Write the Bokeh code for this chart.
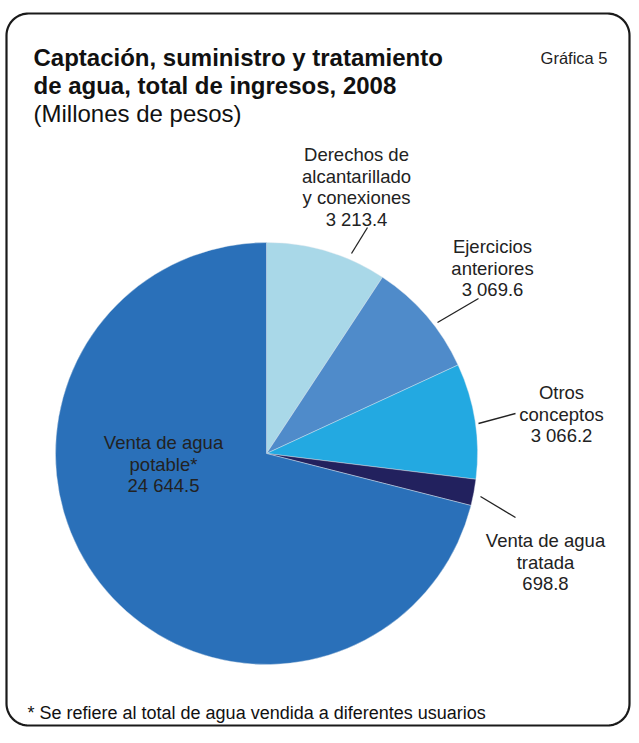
import numpy as np
from bokeh.plotting import figure
from bokeh.models import Range1d
from bokeh.core.properties import value
from bokeh.embed import file_html
from bokeh.resources import INLINE

# ---- data ----
categories = ["Derechos de alcantarillado y conexiones", "Ejercicios anteriores",
              "Otros conceptos", "Venta de agua tratada", "Venta de agua potable*"]
values = [3213.4, 3069.6, 3066.2, 698.8, 24644.5]
label_lines = [["Derechos de", "alcantarillado", "y conexiones"],
               ["Ejercicios", "anteriores"],
               ["Otros", "conceptos"],
               ["Venta de agua", "tratada"],
               ["Venta de agua", "potable*"]]
colors = ["#A9D8E8", "#4F8BCA", "#23A9E1", "#22215E", "#2A70B9"]

title_lines = ["Captación, suministro y tratamiento", "de agua, total de ingresos, 2008"]
subtitle = "(Millones de pesos)"
chart_no = "Gráfica 5"
footnote = "* Se refiere al total de agua vendida a diferentes usuarios"

# ---- layout (pixel coordinates, origin top-left of figure) ----
W, H = 631, 727
FONT = "Liberation Sans"
TXT = "#222222"


def Y(py):
    return H - py


cx, cy, R = 266, 453, 211
label_pos = [(356, 154), (492, 246), (561, 392), (545, 540), (163, 442)]  # centre x, first baseline
leaders = [((367, 227), (351, 253)), ((478, 298), (437, 322)),
           ((515, 413), (478, 423)), ((515, 517), (480, 496))]
LINE_H = 21.5

p = figure(width=W, height=H, output_backend="svg", toolbar_location=None,
           x_range=Range1d(0, W), y_range=Range1d(0, H),
           min_border=0, min_border_left=0, min_border_right=0,
           min_border_top=0, min_border_bottom=0)
p.axis.visible = False
p.xgrid.visible = False
p.ygrid.visible = False
p.outline_line_color = None
p.background_fill_color = "white"
p.border_fill_color = "white"

# rounded border
left, right, top, bottom, rad = 6, 629, 13, 725, 22
pts = []
for (ccx, ccy, a0, a1) in [(left + rad, top + rad, 180, 270), (right - rad, top + rad, 270, 360),
                          (right - rad, bottom - rad, 0, 90), (left + rad, bottom - rad, 90, 180)]:
    a = np.radians(np.linspace(a0, a1, 20))
    pts += [(ccx + rad * np.cos(t), ccy + rad * np.sin(t)) for t in a]
pts.append(pts[0])
p.line([q[0] for q in pts], [Y(q[1]) for q in pts], line_color="#1a1a1a", line_width=2.2)

# pie
vals = np.array(values)
frac = vals / vals.sum()
cum = np.concatenate([[0], np.cumsum(frac)])
start = np.pi / 2 - cum[:-1] * 2 * np.pi
end = np.pi / 2 - cum[1:] * 2 * np.pi
p.wedge(x=cx, y=Y(cy), radius=R, start_angle=list(start), end_angle=list(end),
        direction="clock", fill_color=colors, line_color="#dfe8ef", line_width=0.6, line_alpha=0.7)

# leader lines
for (a, b) in leaders:
    p.line([a[0], b[0]], [Y(a[1]), Y(b[1])], line_color="#222222", line_width=1.3)


def fmt(v):
    ip, dp = f"{v:.1f}".split(".")
    s = ""
    while len(ip) > 3:
        s = " " + ip[-3:] + s
        ip = ip[:-3]
    return ip + s + "." + dp


# labels
for lines, v, (lx, ly) in zip(label_lines, values, label_pos):
    allines = lines + [fmt(v)]
    for i, t in enumerate(allines):
        p.text(x=[lx], y=[Y(ly + i * LINE_H)], text=[t], text_font=value(FONT),
               text_font_size="18.5px", text_color=TXT, text_align="center",
               text_baseline="alphabetic")

# titles
for i, t in enumerate(title_lines):
    p.text(x=[33], y=[Y(57 + i * 28)], text=[t], text_font=value(FONT), text_font_size="24px",
           text_font_style="bold", text_color="#111111", text_align="left", text_baseline="alphabetic")
p.text(x=[33], y=[Y(113)], text=[subtitle], text_font=value(FONT), text_font_size="24px",
       text_color="#111111", text_align="left", text_baseline="alphabetic")
p.text(x=[607], y=[Y(57)], text=[chart_no], text_font=value(FONT), text_font_size="16.5px",
       text_color="#222222", text_align="right", text_baseline="alphabetic")
p.text(x=[27], y=[Y(712)], text=[footnote], text_font=value(FONT), text_font_size="18px",
       text_color="#111111", text_align="left", text_baseline="alphabetic")

open("out.html", "w").write(file_html(p, INLINE))
